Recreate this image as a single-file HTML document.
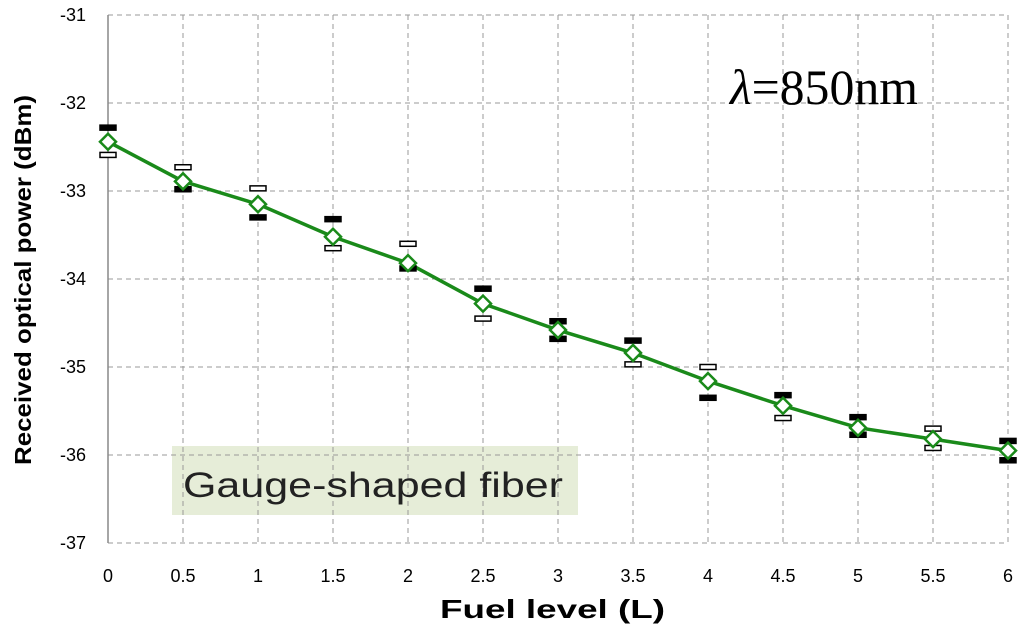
<!DOCTYPE html>
<html><head><meta charset="utf-8"><style>body{margin:0;background:#fff}svg{display:block}</style></head>
<body>
<svg id="c" width="1024" height="635" xmlns="http://www.w3.org/2000/svg" font-family="Liberation Sans, sans-serif"></svg>
<script>
const xs=[0,0.5,1,1.5,2,2.5,3,3.5,4,4.5,5,5.5,6];
const means=[-32.44,-32.89,-33.15,-33.52,-33.82,-34.28,-34.58,-34.84,-35.16,-35.44,-35.69,-35.82,-35.95];
const uppers=[-32.28,-32.73,-32.97,-33.32,-33.60,-34.11,-34.48,-34.70,-35.00,-35.32,-35.57,-35.70,-35.84];
const lowers=[-32.59,-32.98,-33.30,-33.65,-33.88,-34.45,-34.68,-34.97,-35.35,-35.58,-35.77,-35.92,-36.06];
const upperFilled=[1,0,0,1,0,1,1,1,0,1,1,0,1];
const lowerFilled=[0,1,1,0,1,0,1,0,1,0,1,0,1];
const xTicks=[0,0.5,1,1.5,2,2.5,3,3.5,4,4.5,5,5.5,6];
const yTicks=[-31,-32,-33,-34,-35,-36,-37];
const X=v=>108+v*150, Y=v=>15+(-31-v)*88;
const svg=document.getElementById('c');
function el(t,a,txt){const e=document.createElementNS('http://www.w3.org/2000/svg',t);for(const k in a)e.setAttribute(k,a[k]);if(txt!==undefined)e.textContent=txt;svg.appendChild(e);return e;}
let e;
e=el('rect',{x:172,y:446,width:406,height:69,fill:'#e6edd8'});


xTicks.forEach(t=>{if(t>0){e=el('line',{x1:X(t),x2:X(t),y1:Y(-31),y2:Y(-37),stroke:'#999','stroke-dasharray':'5,4'});

}
e=el('text',{x:X(t),y:582,'font-size':18,'text-anchor':'middle',fill:'#000'},String(t));

});
yTicks.forEach(t=>{e=el('line',{x1:X(0),x2:X(6),y1:Y(t),y2:Y(t),stroke:'#999','stroke-dasharray':'5,4'});


e=el('text',{x:86,y:Y(t)+6,'font-size':18,'text-anchor':'end',fill:'#000'},String(t));

});
e=el('line',{x1:X(0),x2:X(0),y1:Y(-31),y2:Y(-37),stroke:'#888','stroke-width':1.5});


e=el('text',{x:183,y:497,'font-size':35,fill:'#222',textLength:380,lengthAdjust:'spacingAndGlyphs'},'Gauge-shaped fiber');


e=el('text',{x:730,y:104,'font-size':50,'font-family':'Liberation Serif, serif',textLength:188,lengthAdjust:'spacingAndGlyphs'});


e.innerHTML='<tspan font-style="italic">λ</tspan>=850nm';
e=el('polyline',{points:xs.map((x,i)=>X(x)+','+Y(means[i])).join(' '),fill:'none',stroke:'#1a8a1a','stroke-width':3.5});


function cap(x,v,f){const r=el('rect',{x:X(x)-8,y:Y(v)-2.5,width:16,height:5,fill:f?'#000':'#fff',stroke:'#000','stroke-width':1.5});

}
xs.forEach((x,i)=>{cap(x,uppers[i],upperFilled[i]);cap(x,lowers[i],lowerFilled[i]);
const cx=X(x),cy=Y(means[i]);
const m=el('polygon',{points:`${cx},${cy-8} ${cx+8},${cy} ${cx},${cy+8} ${cx-8},${cy}`,fill:'#fff',stroke:'#1a8a1a','stroke-width':2.5});

});
e=el('text',{x:440,y:618,'font-size':26,'font-weight':'bold',textLength:225,lengthAdjust:'spacingAndGlyphs'},'Fuel level (L)');


e=el('text',{x:0,y:0,'font-size':23,'font-weight':'bold','text-anchor':'middle',textLength:370,lengthAdjust:'spacingAndGlyphs',transform:'translate(31,280) rotate(-90)'},'Received optical power (dBm)');


</script>
</body></html>
